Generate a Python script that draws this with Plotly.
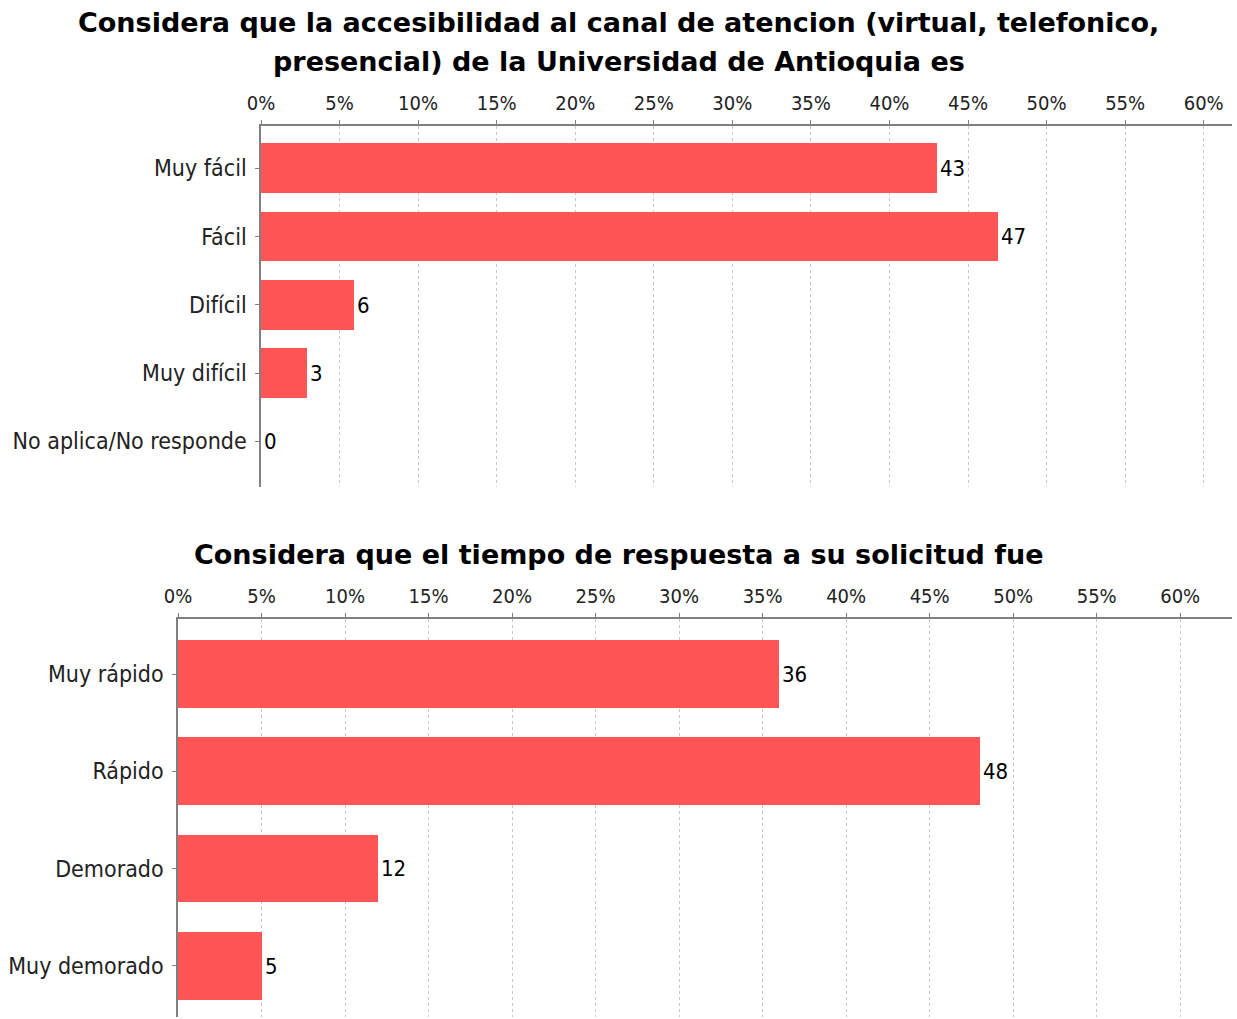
import plotly.graph_objects as go

# ---- data ----
title1_line1 = "Considera que la accesibilidad al canal de atencion (virtual, telefonico,"
title1_line2 = "presencial) de la Universidad de Antioquia es"
cats1 = ["Muy fácil", "Fácil", "Difícil", "Muy difícil", "No aplica/No responde"]
vals1 = [43.0, 46.9, 5.9, 2.9, 0.0]

title2 = "Considera que el tiempo de respuesta a su solicitud fue"
cats2 = ["Muy rápido", "Rápido", "Demorado", "Muy demorado"]
vals2 = [36.0, 48.0, 12.0, 5.0]

tick_vals = [0, 5, 10, 15, 20, 25, 30, 35, 40, 45, 50, 55, 60]
tick_text = [f"{v}%" for v in tick_vals]

# ---- style ----
W, H = 1237, 1019
BAR = "#FF5555"
FONT = "DejaVu Sans Condensed, DejaVu Sans, sans-serif"
TFONT = "DejaVu Sans, sans-serif"

def px_x(p):
    return p / W

def px_y(p):
    return 1 - p / H

fig = go.Figure()
fig.add_trace(go.Bar(
    x=vals1, y=cats1, orientation="h", marker=dict(color=BAR, line=dict(width=0)),
    width=0.73, text=[f"{v:.0f}" for v in vals1], textposition="outside",
    textfont=dict(size=22, color="black", family=FONT), cliponaxis=False,
    xaxis="x", yaxis="y", hoverinfo="x+y",
))
fig.add_trace(go.Bar(
    x=vals2, y=cats2, orientation="h", marker=dict(color=BAR, line=dict(width=0)),
    width=0.70, text=[f"{v:.0f}" for v in vals2], textposition="outside",
    textfont=dict(size=22, color="black", family=FONT), cliponaxis=False,
    xaxis="x2", yaxis="y2", hoverinfo="x+y",
))

xcommon = dict(
    side="top", tickmode="array", tickvals=tick_vals, ticktext=tick_text,
    showgrid=True, gridcolor="#c8c8c8", griddash="3px,3px", gridwidth=1,
    showline=True, linecolor="#808080", linewidth=1.5,
    ticks="outside", ticklen=4, tickcolor="#808080", ticklabelstandoff=2,
    tickfont=dict(size=20, color="#222222", family=FONT),
    zeroline=False, fixedrange=True, automargin=False,
)
ycommon = dict(
    type="category", showgrid=False, showline=True, linecolor="#808080", linewidth=1.5,
    ticks="outside", ticklen=4, tickcolor="#808080", ticklabelstandoff=4,
    tickfont=dict(size=23, color="#222222", family=FONT), zeroline=False,
    fixedrange=True, automargin=False,
)

fig.update_layout(
    width=W, height=H, autosize=False,
    margin=dict(l=0, r=0, t=0, b=0),
    paper_bgcolor="white", plot_bgcolor="white",
    showlegend=False, bargap=0,
    xaxis=dict(xcommon, domain=[px_x(261), px_x(1232)], range=[0, 61.8], anchor="y"),
    yaxis=dict(ycommon, domain=[px_y(487), px_y(126)], range=[4.67, -0.62], anchor="x"),
    xaxis2=dict(xcommon, domain=[px_x(178), px_x(1232)], range=[0, 63.1], anchor="y2"),
    yaxis2=dict(ycommon, domain=[px_y(1017), px_y(619)], range=[3.53, -0.57], anchor="x2"),
    annotations=[
        dict(text=f"<b>{title1_line1}</b>", x=0.5, y=px_y(22), xref="paper", yref="paper",
             showarrow=False, xanchor="center", yanchor="middle",
             font=dict(size=27, color="black", family=TFONT)),
        dict(text=f"<b>{title1_line2}</b>", x=0.5, y=px_y(61), xref="paper", yref="paper",
             showarrow=False, xanchor="center", yanchor="middle",
             font=dict(size=27, color="black", family=TFONT)),
        dict(text=f"<b>{title2}</b>", x=0.5, y=px_y(554), xref="paper", yref="paper",
             showarrow=False, xanchor="center", yanchor="middle",
             font=dict(size=27, color="black", family=TFONT)),
    ],
)

fig.write_html("out.html")
